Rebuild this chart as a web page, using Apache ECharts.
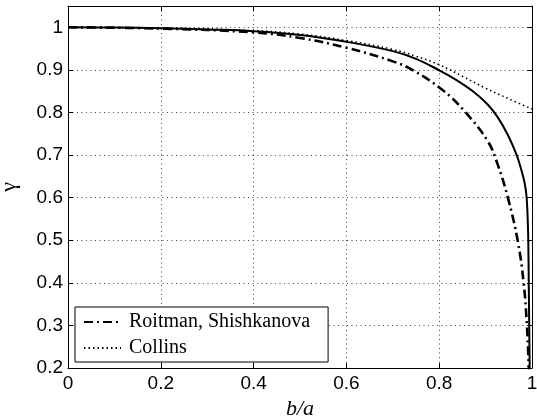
<!DOCTYPE html>
<html>
<head>
<meta charset="utf-8">
<script src="https://cdn.jsdelivr.net/npm/echarts@6/dist/echarts.min.js"></script>
<style>
  html, body { margin: 0; padding: 0; background: #fff; }
  #chart { width: 537px; height: 417px; }
</style>
</head>
<body>
<div id="chart"></div>
<script>
// Ratio b/a on the horizontal axis, efficiency gamma on the vertical axis.
const xTicks = [0, 0.2, 0.4, 0.6, 0.8, 1];
const yTicks = [0.2, 0.3, 0.4, 0.5, 0.6, 0.7, 0.8, 0.9, 1];

// Present result (solid curve)
const solidX = [0, 0.1, 0.2, 0.3, 0.4, 0.5, 0.6, 0.7, 0.75, 0.8, 0.833, 0.876, 0.905, 0.926, 0.948, 0.967, 0.977, 0.984, 0.988, 0.99, 0.991, 0.992, 0.993, 0.994, 0.995, 0.996];
const solidY = [1, 0.9995, 0.998, 0.995, 0.991, 0.982, 0.966, 0.944, 0.926, 0.899, 0.879, 0.847, 0.818, 0.789, 0.747, 0.7, 0.665, 0.635, 0.605, 0.57, 0.54, 0.5, 0.4, 0.3, 0.2, 0.1];

// Roitman, Shishkanova (dash-dot curve)
const roitmanX = [0, 0.2, 0.4, 0.5, 0.6, 0.7, 0.742, 0.808, 0.857, 0.905, 0.926, 0.948, 0.969, 0.982, 0.989, 0.993, 0.996];
const roitmanY = [1, 0.997, 0.988, 0.975, 0.952, 0.92, 0.9, 0.852, 0.8, 0.732, 0.678, 0.6, 0.5, 0.4, 0.3, 0.2, 0.1];

// Collins (dotted curve)
const collinsX = [0, 0.2, 0.4, 0.5, 0.6, 0.7, 0.75, 0.8, 0.85, 0.9, 0.95, 1];
const collinsY = [1, 0.998, 0.992, 0.984, 0.969, 0.948, 0.932, 0.912, 0.885, 0.857, 0.832, 0.808];

const seriesNames = ['', 'Roitman, Shishkanova', 'Collins'];

const pairs = (xs, ys) => xs.map((x, i) => [x, ys[i]]);

const tickFont = { fontFamily: 'Liberation Sans', fontSize: 19, color: '#000' };
const gridDots = { show: true, lineStyle: { color: '#444', width: 1, type: [1, 3.5] } };
const frameLine = { show: true, onZero: false, lineStyle: { color: '#000', width: 1 } };
const innerTick = { show: true, inside: true, length: 5, lineStyle: { color: '#000', width: 1 } };

const chart = echarts.init(document.getElementById('chart'), null, { renderer: 'canvas' });

chart.setOption({
  animation: false,
  backgroundColor: '#fff',
  grid: { left: 68, right: 5, top: 6, bottom: 49, containLabel: false, outerBoundsMode: 'none' },
  legend: {
    data: [seriesNames[1], seriesNames[2]],
    orient: 'vertical',
    left: 75,
    top: 307,
    itemWidth: 37,
    itemHeight: 20,
    itemGap: 6,
    padding: [5, 18, 4, 8],
    backgroundColor: '#fff',
    borderColor: '#000',
    borderWidth: 1,
    borderRadius: 0,
    selectedMode: false,
    itemStyle: { opacity: 0 },
    textStyle: { fontFamily: 'Liberation Serif', fontSize: 20, color: '#000', padding: [0, 0, 0, 3] }
  },
  xAxis: [
    {
      type: 'value', min: 0, max: 1, interval: 0.2,
      name: 'b/a', nameLocation: 'middle', nameGap: 28,
      nameTextStyle: { fontFamily: 'Liberation Serif', fontStyle: 'italic', fontSize: 22, color: '#000' },
      axisLine: frameLine, axisTick: innerTick, splitLine: gridDots,
      axisLabel: Object.assign({ margin: 6 }, tickFont)
    },
    {
      type: 'value', position: 'top', min: 0, max: 1, interval: 0.2,
      axisLine: frameLine, axisTick: innerTick, splitLine: { show: false }, axisLabel: { show: false }
    }
  ],
  yAxis: [
    {
      type: 'value', min: 0.2, max: 1.05, interval: 0.1,
      name: 'γ', nameLocation: 'middle', nameGap: 48, nameRotate: 90,
      nameTextStyle: { fontFamily: 'Liberation Serif', fontSize: 22, color: '#000' },
      axisLine: frameLine, axisTick: innerTick, splitLine: gridDots,
      axisLabel: Object.assign({ margin: 5, showMaxLabel: false }, tickFont)
    },
    {
      type: 'value', position: 'right', min: 0.2, max: 1.05, interval: 0.1,
      axisLine: frameLine, axisTick: innerTick, splitLine: { show: false }, axisLabel: { show: false }
    }
  ],
  series: [
    {
      name: seriesNames[0], type: 'line', showSymbol: false, symbol: 'none',
      smooth: 0.4,
      data: pairs(solidX, solidY),
      itemStyle: { color: '#000' },
      lineStyle: { color: '#000', width: 2, type: 'solid' }
    },
    {
      name: seriesNames[1], type: 'line', showSymbol: false, symbol: 'none',
      smooth: 0.4,
      data: pairs(roitmanX, roitmanY),
      itemStyle: { color: '#000' },
      lineStyle: { color: '#000', width: 2.6, type: [9, 4, 2, 4] }
    },
    {
      name: seriesNames[2], type: 'line', showSymbol: false, symbol: 'none',
      smooth: 0.4,
      data: pairs(collinsX, collinsY),
      itemStyle: { color: '#000' },
      lineStyle: { color: '#000', width: 1.6, type: [1.5, 3] }
    }
  ]
});
</script>
</body>
</html>
